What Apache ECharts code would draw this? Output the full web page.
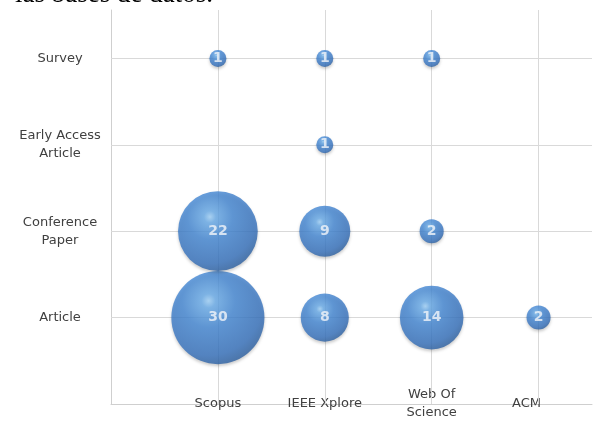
<!DOCTYPE html>
<html>
<head>
<meta charset="utf-8">
<script src="https://cdn.jsdelivr.net/npm/echarts@6/dist/echarts.min.js"></script>
<style>html,body{margin:0;padding:0;background:#fff;overflow:hidden;}#c{width:595px;height:422px;}</style>
</head>
<body>
<div id="c"></div>
<script>
// Categories
const databases = ['Scopus', 'IEEE Xplore', 'Web Of\nScience', 'ACM'];
const docTypes = ['Article', 'Conference\nPaper', 'Early Access\nArticle', 'Survey'];
// Counts per document type, in the order of databases
const article = [30, 8, 14, 2];
const conferencePaper = [22, 9, 2, 0];
const earlyAccess = [0, 1, 0, 0];
const survey = [1, 1, 1, 0];
const pageText = 'las bases de datos.';

const rows = [article, conferencePaper, earlyAccess, survey];
const points = [];
rows.forEach((row, yi) => row.forEach((v, xi) => { if (v > 0) points.push([xi + 1, yi + 1, v]); }));

const chart = echarts.init(document.getElementById('c'), null, {renderer: 'canvas'});
const axisFont = {fontFamily: 'DejaVu Sans', fontSize: 13, color: '#404040', lineHeight: 18};
chart.setOption({
  animation: false,
  backgroundColor: '#ffffff',
  graphic: [{
    type: 'text', left: 15, top: -19,
    style: {text: pageText, font: '27px "Liberation Serif"', fill: '#000'}
  }],
  grid: {left: 111, right: 2.5, top: 10, bottom: 14},
  xAxis: {
    type: 'value', min: 0, max: 4.5, interval: 1,
    splitLine: {show: false},
    axisTick: {show: false},
    axisLine: {show: true, lineStyle: {color: '#cfcfcf', width: 1}},
    axisLabel: Object.assign({}, axisFont, {
      margin: 0, verticalAlign: 'middle', align: 'center',
      formatter: v => (Number.isInteger(v) && v >= 1 && v <= databases.length) ?
        (databases[v - 1] === 'ACM' ? '{s|ACM}' : databases[v - 1]) : '',
      rich: {s: Object.assign({}, axisFont, {padding: [0, 24, 0, 0]})}
    })
  },
  yAxis: {
    type: 'value', min: 0, max: 4.56, interval: 1,
    splitLine: {show: false},
    axisTick: {show: false},
    axisLine: {show: true, lineStyle: {color: '#cfcfcf', width: 1}},
    axisLabel: Object.assign({}, axisFont, {
      margin: 51, align: 'center', verticalAlign: 'middle',
      formatter: v => (Number.isInteger(v) && v >= 1 && v <= docTypes.length) ? docTypes[v - 1] : ''
    })
  },
  series: [{
    type: 'scatter', data: [], z: 1, silent: true,
    markLine: {
      z: 1, silent: true, symbol: 'none', label: {show: false},
      lineStyle: {type: 'solid', color: '#d9d9d9', width: 1},
      data: databases.map((_, i) => ({xAxis: i + 1})).concat(docTypes.map((_, i) => ({yAxis: i + 1})))
    }
  }, {
    type: 'scatter', z: 10,
    data: points,
    symbolSize: d => 17 * Math.sqrt(d[2]),
    itemStyle: {
      color: {
        type: 'radial', x: 0.4, y: 0.32, r: 0.75,
        colorStops: [
          {offset: 0, color: '#a0d2fa'},
          {offset: 0.1, color: '#69acea'},
          {offset: 0.38, color: '#4387d4'},
          {offset: 0.78, color: '#3571bd'},
          {offset: 1, color: '#285996'}
        ]
      },
      shadowBlur: 3, shadowColor: 'rgba(0,0,0,0.25)', shadowOffsetY: 2
    },
    label: {
      show: true, position: 'inside',
      formatter: p => String(p.value[2]),
      color: '#f2f5f9', fontFamily: 'DejaVu Sans', fontWeight: 'bold', fontSize: 14
    }
  }]
});
</script>
</body>
</html>
